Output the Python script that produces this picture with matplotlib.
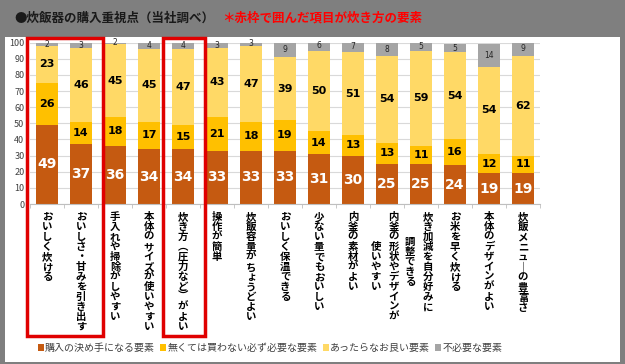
import matplotlib
matplotlib.use("Agg")
import matplotlib.pyplot as plt
from matplotlib.patches import Rectangle
from matplotlib.transforms import blended_transform_factory
import numpy as np

plt.rcParams['font.family'] = ['Noto Sans CJK JP', 'DejaVu Sans']

categories = [
    ["おいしく炊ける"],
    ["おいしさ・甘みを引き出す"],
    ["手入れや掃除がしやすい"],
    ["本体のサイズが使いやすい"],
    ["炊き方（圧力など）がよい"],
    ["操作が簡単"],
    ["炊飯容量がちょうどよい"],
    ["おいしく保温できる"],
    ["少ない量でもおいしい"],
    ["内釜の素材がよい"],
    ["内釜の形状やデザインが", "使いやすい"],
    ["炊き加減を自分好みに", "調整できる"],
    ["お米を早く炊ける"],
    ["本体のデザインがよい"],
    ["炊飯メニューの豊富さ"],
]
decisive = [49, 37, 36, 34, 34, 33, 33, 33, 31, 30, 25, 25, 24, 19, 19]
essential = [26, 14, 18, 17, 15, 21, 18, 19, 14, 13, 13, 11, 16, 12, 11]
nice = [23, 46, 45, 45, 47, 43, 47, 39, 50, 51, 54, 59, 54, 54, 62]
unneeded = [2, 3, 2, 4, 4, 3, 3, 9, 6, 7, 8, 5, 5, 14, 9]
series_names = ["購入の決め手になる要素", "無くては買わない必ず必要な要素",
                "あったらなお良い要素", "不必要な要素"]
highlighted = [[0, 1], [4]]

colors = ["#C55A11", "#FFC000", "#FFD966", "#A5A5A5"]

W, H = 625, 364
fig = plt.figure(figsize=(W / 100, H / 100), dpi=100, facecolor="#7F7F7F")
fig.patches.append(Rectangle((5 / W, 2 / H), 615 / W, 325 / H, transform=fig.transFigure,
                             facecolor="white", edgecolor="none", zorder=-10))

fig.text(14 / W, 1 - 18 / H, "●炊飯器の購入重視点（当社調べ）", fontsize=9, fontweight="bold",
         color="#1a1a1a", va="center", ha="left")
fig.text(222 / W, 1 - 18 / H, "＊赤枠で囲んだ項目が炊き方の要素", fontsize=9, fontweight="bold",
         color="#FF0000", va="center", ha="left")

ax = fig.add_axes([30 / W, 1 - 204 / H, 510 / W, (204 - 42.7) / H])
ax.set_zorder(1)
ax.set_facecolor("white")
x = np.arange(len(categories))
series = [decisive, essential, nice, unneeded]
bottom = np.zeros(len(x))
bw = 0.65
for si, (vals, c) in enumerate(zip(series, colors)):
    vals = np.array(vals, dtype=float)
    ax.bar(x, vals, bw, bottom=bottom, color=c, zorder=2, label=series_names[si])
    for xi, v, b in zip(x, vals, bottom):
        yc = b + v / 2
        if si == 0:
            ax.text(xi, yc, f"{int(v)}", ha="center", va="center", color="white",
                    fontsize=10, fontweight="bold", family="DejaVu Sans", zorder=3)
        elif si == 3:
            ax.text(xi, yc, f"{int(v)}", ha="center", va="center", color="#262626",
                    fontsize=5.5, family="DejaVu Sans", zorder=3)
        else:
            ax.text(xi, yc, f"{int(v)}", ha="center", va="center", color="black",
                    fontsize=8, fontweight="bold", family="DejaVu Sans", zorder=3)
    bottom += vals

ax.set_xlim(-0.5, len(x) - 0.5)
ax.set_ylim(0, 100)
ax.set_yticks(np.arange(0, 101, 10))
ax.tick_params(axis="y", length=0, labelsize=6.5, labelcolor="#404040", pad=4)
ax.yaxis.grid(True, color="#D9D9D9", linewidth=0.8, zorder=0)
ax.set_axisbelow(True)
ax.set_xticks([])
ax.set_xticks(np.arange(-0.5, len(x), 1.0), minor=True)
ax.tick_params(axis="x", which="minor", length=3, color="#BFBFBF", labelbottom=False)
for s in ["top", "right", "left"]:
    ax.spines[s].set_visible(False)
ax.spines["bottom"].set_color("#BFBFBF")

vert_map = {"（": "︵", "）": "︶", "ー": "｜"}

def vert(s):
    return "\n".join(vert_map.get(ch, ch) for ch in s)

tr = ax.get_xaxis_transform()
top_y = -8 / (204 - 42.7)
char_h = 10.0 / (204 - 42.7)
ls = 1.0
for xi, lab in zip(x, categories):
    if len(lab) == 1:
        ax.text(xi, top_y, vert(lab[0]), transform=tr, ha="center", va="top",
                fontsize=7.5, fontweight="bold", linespacing=ls, color="black")
    else:
        n0 = len(lab[0])
        center = top_y - n0 * char_h / 2
        ax.text(xi + 0.2, center, vert(lab[0]), transform=tr, ha="center", va="center",
                fontsize=7.5, fontweight="bold", linespacing=ls, color="black")
        ax.text(xi - 0.33, center, vert(lab[1]), transform=tr, ha="center", va="center",
                fontsize=7.5, fontweight="bold", linespacing=ls, color="black")

# highlight boxes
btr = blended_transform_factory(ax.transData, fig.transFigure)
for grp in highlighted:
    left = min(grp) - 0.58
    right = max(grp) + 0.65
    rect = Rectangle((left, 1 - 336 / H), right - left, (336 - 38) / H, transform=btr,
                     fill=False, edgecolor="#E00000", linewidth=2.5, clip_on=False, zorder=5)
    fig.add_artist(rect)

handles, labels = ax.get_legend_handles_labels()
leg = fig.legend(handles, labels, loc="center", bbox_to_anchor=(270 / W, 1 - 348 / H), ncol=4,
                 frameon=False, fontsize=7.2, handlelength=0.6, handleheight=0.6,
                 handletextpad=0.15, columnspacing=0.5, borderpad=0)
for t in leg.get_texts():
    t.set_color("#404040")

fig.savefig("out.png", dpi=100, facecolor=fig.get_facecolor())
